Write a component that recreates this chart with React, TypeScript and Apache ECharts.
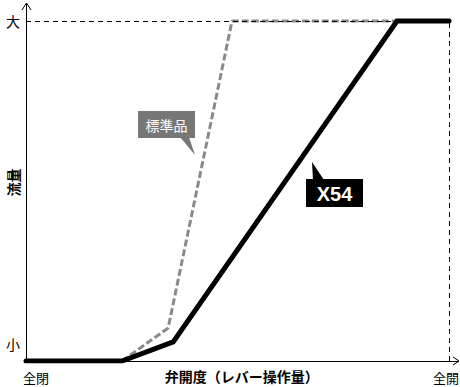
import React, { useEffect, useRef } from "react";
import * as echarts from "echarts";

const blackX = [0, 22.7, 34.8, 87.7, 100];
const blackY = [0, 0, 5.6, 100, 100];
const grayX = [22.7, 33.6, 48.7, 87.7];
const grayY = [0, 9.7, 100, 100];
const yTickValues = [5, 100];
const yTickLabels = ["小", "大"];
const xTickValues = [0, 100];
const xTickLabels = ["全閉", "全開"];
const xName = "弁開度（レバー操作量）";
const yName = "流量";
const grayName = "標準品";
const blackName = "X54";

const FONT = "'Noto Sans CJK JP', 'Noto Sans', sans-serif";

export default function App() {
  const ref = useRef<HTMLDivElement>(null);
  useEffect(() => {
    if (!ref.current) return;
    const chart = echarts.init(ref.current, undefined, { renderer: "svg" });
    const pair = (xs: number[], ys: number[]) => xs.map((x, i) => [x, ys[i]]);
    chart.setOption({
      animation: false,
      backgroundColor: "#ffffff",
      grid: { left: 26, right: 2.5, top: 4, bottom: 26, containLabel: false, outerBoundsMode: "none" },
      xAxis: {
        type: "value",
        min: 0,
        max: 102,
        name: xName,
        nameLocation: "middle",
        nameGap: 8,
        nameMoveOverlap: false,
        nameTextStyle: { fontFamily: FONT, fontSize: 14, fontWeight: "bold", color: "#000", verticalAlign: "top" },
        axisLine: { show: true, lineStyle: { color: "#000", width: 1 } },
        axisTick: { show: false },
        splitLine: { show: false },
        axisLabel: {
          customValues: xTickValues,
          formatter: (v: number) => {
            const i = xTickValues.indexOf(v);
            return i < 0 ? "" : `{${i === 0 ? "a" : "b"}|${xTickLabels[i]}}`;
          },
          rich: {
            a: { fontFamily: FONT, fontSize: 13, color: "#000", padding: [0, 0, 0, 20] },
            b: { fontFamily: FONT, fontSize: 13, color: "#000", padding: [0, 6, 0, 0] },
          },
          hideOverlap: false,
          fontFamily: FONT,
          fontSize: 13,
          color: "#000",
          margin: 10,
          showMinLabel: true,
          showMaxLabel: true,
        },
      },
      yAxis: {
        type: "value",
        min: 0,
        max: 105,
        name: yName,
        nameLocation: "middle",
        nameRotate: 90,
        nameGap: 6,
        nameMoveOverlap: false,
        nameTextStyle: { fontFamily: FONT, fontSize: 14, fontWeight: "bold", color: "#000" },
        axisLine: { show: true, lineStyle: { color: "#000", width: 1 } },
        axisTick: { show: false },
        splitLine: { show: false },
        axisLabel: {
          customValues: yTickValues,
          formatter: (v: number) => yTickLabels[yTickValues.indexOf(v)] ?? "",
          fontFamily: FONT,
          fontSize: 14,
          color: "#000",
          margin: 6,
        },
      },
      series: [
        {
          type: "line",
          name: grayName,
          data: pair(grayX, grayY),
          symbol: "none",
          z: 2,
          lineStyle: { color: "#8a8a8a", width: 3, type: [7, 3] },
          markLine: {
            silent: true,
            symbol: "none",
            label: { show: false },
            lineStyle: { color: "#000", width: 1, type: [5, 4] },
            data: [
              [{ coord: [0, 100] }, { coord: [100, 100] }],
              [{ coord: [100, 0] }, { coord: [100, 100] }],
            ],
          },
        },
        {
          type: "line",
          name: blackName,
          data: pair(blackX, blackY),
          symbol: "none",
          z: 3,
          lineStyle: { color: "#000", width: 5, cap: "round", join: "miter" },
        },
      ],
      graphic: [
        { type: "polyline", shape: { points: [[22, 10], [26.5, 3], [31, 10]] }, style: { stroke: "#000", lineWidth: 1, fill: "none" } },
        { type: "polyline", shape: { points: [[453, 357], [459, 361], [453, 365]] }, style: { stroke: "#000", lineWidth: 1, fill: "none" } },
        { type: "polygon", shape: { points: [[180, 137], [189, 137], [195, 155]] }, style: { fill: "#777777" } },
        { type: "rect", shape: { x: 138, y: 111, width: 57, height: 27 }, style: { fill: "#777777" } },
        {
          type: "text",
          x: 166.5,
          y: 124.5,
          style: { text: grayName, fill: "#fff", font: `14px ${FONT}`, align: "center", verticalAlign: "middle" },
        },
        { type: "polygon", shape: { points: [[313, 180], [324, 180], [312, 162]] }, style: { fill: "#000" } },
        { type: "rect", shape: { x: 306, y: 179, width: 57, height: 28 }, style: { fill: "#000" } },
        {
          type: "text",
          x: 334.5,
          y: 193.5,
          style: { text: blackName, fill: "#fff", font: `bold 20px 'Liberation Sans', Arial, sans-serif`, align: "center", verticalAlign: "middle" },
        },
      ],
    });
    return () => chart.dispose();
  }, []);
  return <div ref={ref} style={{ width: 460, height: 387, position: "absolute", left: 0, top: 0 }} />;
}
